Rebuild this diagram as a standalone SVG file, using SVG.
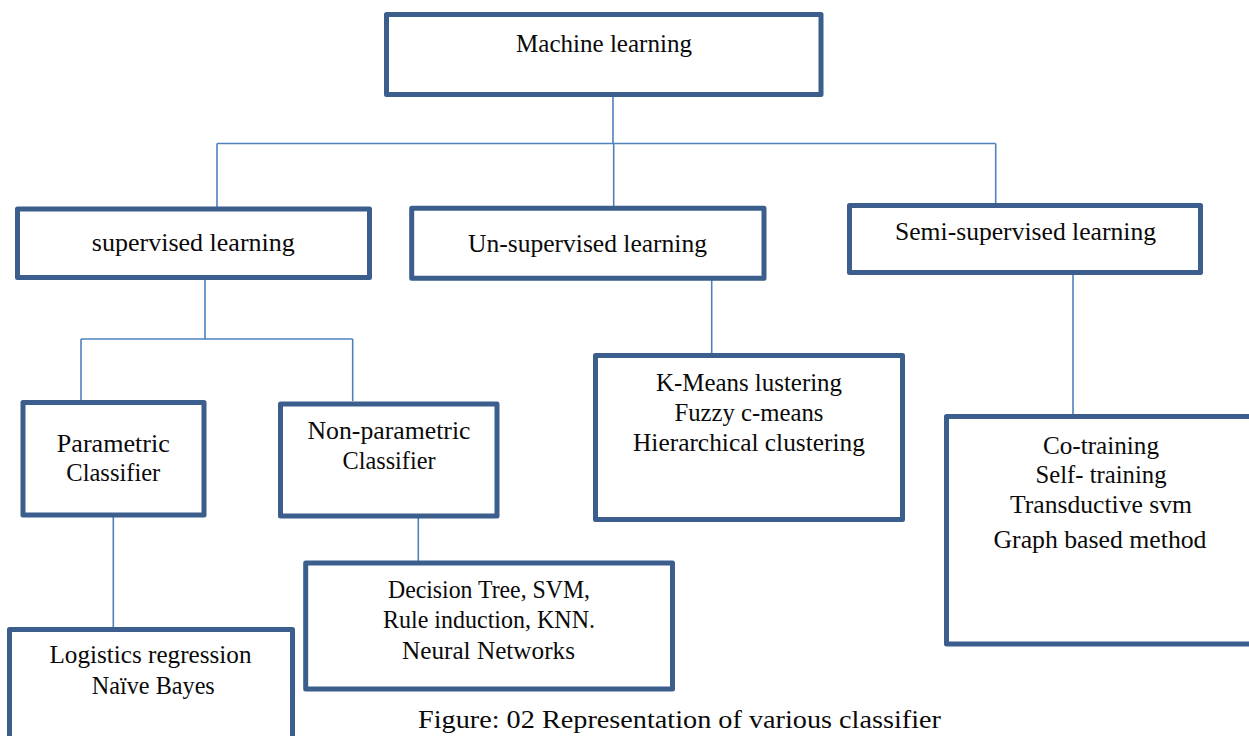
<svg xmlns="http://www.w3.org/2000/svg" width="1249" height="736" viewBox="0 0 1249 736">
<style>
.box{fill:#ffffff;stroke:#3B5E8C;stroke-width:5;stroke-linejoin:round}
.con{fill:none;stroke:#4F81BD;stroke-width:1.6}
text{font-family:"Liberation Serif","Times New Roman",serif;font-size:26px;fill:#0a0a0a;text-anchor:middle}
</style>
<rect width="1249" height="736" fill="#ffffff"/>
<g id="connectors">
<path class="con" d="M613 97V143.5M217 143.5H995.7M217 143.5V207M613.7 143.5V206M995.7 143.5V203"/>
<path class="con" d="M205 280V339M81 339H352.7M81 339V400M352.7 339V401"/>
<path class="con" d="M113.3 517V627M418.3 518V561"/>
<path class="con" d="M711.7 280V353"/>
<path class="con" d="M1073 275V414"/>
</g>
<g id="ml">
<rect class="box" x="386.5" y="14.5" width="434.5" height="80"/>
<text x="604" y="52" textLength="176" lengthAdjust="spacingAndGlyphs">Machine learning</text>
</g>
<g id="supervised">
<rect class="box" x="17.5" y="209" width="352" height="68.5"/>
<text x="193.3" y="251" textLength="203" lengthAdjust="spacingAndGlyphs">supervised learning</text>
</g>
<g id="unsupervised">
<rect class="box" x="411.7" y="208.3" width="352.3" height="70"/>
<text x="587.5" y="252" textLength="239" lengthAdjust="spacingAndGlyphs">Un-supervised learning</text>
</g>
<g id="semisupervised">
<rect class="box" x="849.5" y="205.5" width="351" height="67"/>
<text x="1025.5" y="240" textLength="261" lengthAdjust="spacingAndGlyphs">Semi-supervised learning</text>
</g>
<g id="parametric">
<rect class="box" x="23" y="402.5" width="181" height="112.5"/>
<text x="113.3" y="452" textLength="113" lengthAdjust="spacingAndGlyphs">Parametric</text>
<text x="113.3" y="481" textLength="94" lengthAdjust="spacingAndGlyphs">Classifier</text>
</g>
<g id="nonparametric">
<rect class="box" x="280.5" y="404" width="216.5" height="112"/>
<text x="389" y="438.5" textLength="163" lengthAdjust="spacingAndGlyphs">Non-parametric</text>
<text x="389" y="469" textLength="93" lengthAdjust="spacingAndGlyphs">Classifier</text>
</g>
<g id="clustering">
<rect class="box" x="595.5" y="355.5" width="307" height="164"/>
<text x="749" y="391" textLength="186" lengthAdjust="spacingAndGlyphs">K-Means lustering</text>
<text x="749" y="420.5" textLength="149" lengthAdjust="spacingAndGlyphs">Fuzzy c-means</text>
<text x="749" y="451" textLength="232" lengthAdjust="spacingAndGlyphs">Hierarchical clustering</text>
</g>
<g id="semimethods">
<rect class="box" x="946.5" y="416.5" width="307" height="227.5"/>
<text x="1101" y="453.5" textLength="116" lengthAdjust="spacingAndGlyphs">Co-training</text>
<text x="1101" y="483" textLength="131" lengthAdjust="spacingAndGlyphs">Self- training</text>
<text x="1101" y="513" textLength="182" lengthAdjust="spacingAndGlyphs">Transductive svm</text>
<text x="1100" y="547.5" textLength="213" lengthAdjust="spacingAndGlyphs">Graph based method</text>
</g>
<g id="nonparam-methods">
<rect class="box" x="305.7" y="563" width="366.8" height="126"/>
<text x="489" y="597.5" textLength="202" lengthAdjust="spacingAndGlyphs">Decision Tree, SVM,</text>
<text x="489" y="627.5" textLength="212" lengthAdjust="spacingAndGlyphs">Rule induction, KNN.</text>
<text x="488.5" y="658.5" textLength="173" lengthAdjust="spacingAndGlyphs">Neural Networks</text>
</g>
<g id="param-methods">
<rect class="box" x="9.5" y="629.5" width="283" height="120"/>
<text x="150.5" y="663" textLength="202" lengthAdjust="spacingAndGlyphs">Logistics regression</text>
<text x="153.3" y="693.5" textLength="123" lengthAdjust="spacingAndGlyphs">Naïve Bayes</text>
</g>
<text x="679.5" y="728" textLength="523" lengthAdjust="spacingAndGlyphs">Figure: 02 Representation of various classifier</text>
</svg>
